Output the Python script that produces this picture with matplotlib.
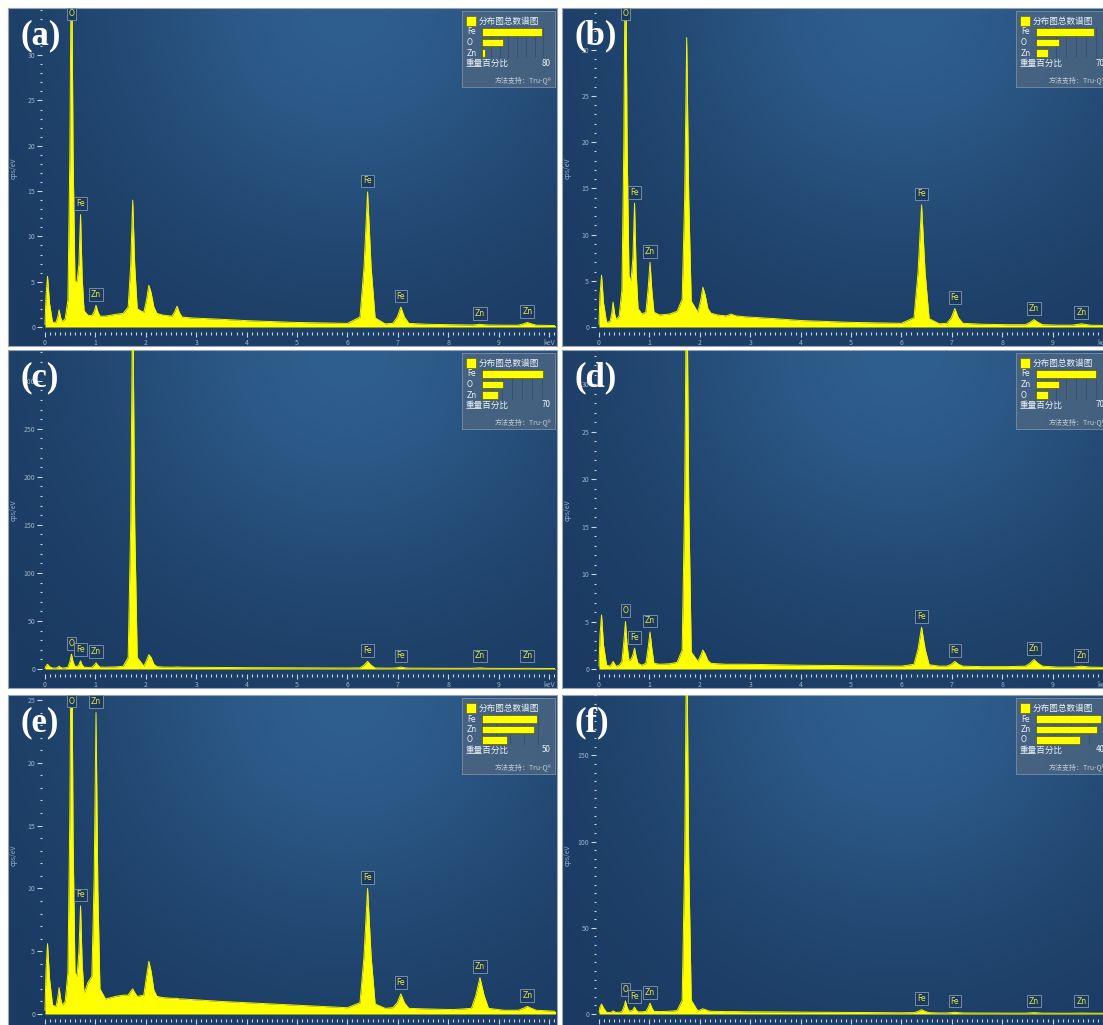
import numpy as np
import matplotlib
matplotlib.use('Agg')
import matplotlib.pyplot as plt
from matplotlib.ticker import MultipleLocator
from matplotlib.patches import Rectangle

plt.rcParams['font.family'] = ['Noto Sans CJK SC', 'DejaVu Sans']

W, H = 1103, 1025

# energy grid (keV) shared by all six spectra
energy = [0.00, 0.02, 0.05, 0.09, 0.15,
          0.22, 0.253, 0.28, 0.307, 0.34,
          0.40,
          0.455, 0.493, 0.525, 0.557, 0.595,
          0.635, 0.673, 0.705, 0.737, 0.775,
          0.85,
          0.93, 0.976, 1.012, 1.048, 1.09,
          1.2, 1.4, 1.55,
          1.65, 1.70, 1.74, 1.78, 1.83,
          1.96, 2.015, 2.06, 2.105, 2.16, 2.22,
          2.35, 2.52, 2.575, 2.62, 2.665, 2.72,
          2.9, 3.5, 4.0, 5.0, 6.0,
          6.25, 6.33, 6.40, 6.47, 6.55,
          6.75,
          6.90, 6.99, 7.06, 7.13, 7.22,
          7.6, 8.1,
          8.46, 8.55, 8.63, 8.71, 8.80,
          9.1,
          9.39, 9.49, 9.57, 9.65, 9.75,
          10.2]

# cps/eV
counts_a = [0.3, 3.4, 5.6, 2.6, 0.5,
            0.55, 1.1, 1.9, 1.1, 0.6,
            0.9,
            3.0, 19, 45, 19, 5.0,
            5.0, 7.0, 12.4, 5.5, 1.8,
            1.3,
            1.25, 1.7, 2.4, 1.7, 1.2,
            1.2, 1.4, 1.5,
            2.2, 6.8, 14.0, 6.8, 2.0,
            1.6, 3.0, 4.6, 3.8, 2.2, 1.5,
            1.3, 1.2, 1.7, 2.3, 1.6, 1.1,
            1.0, 0.85, 0.7, 0.5, 0.4,
            1.1, 6.6, 14.9, 6.6, 1.0,
            0.35,
            0.4, 1.1, 2.2, 1.1, 0.4,
            0.3, 0.25,
            0.22, 0.25, 0.3, 0.25, 0.22,
            0.2,
            0.2, 0.35, 0.5, 0.35, 0.2,
            0.15]

counts_b = [0.3, 3.5, 5.6, 2.6, 0.5,
            0.6, 1.5, 2.7, 1.5, 0.8,
            1.2,
            4.0, 20, 45, 20, 5.5,
            5.0, 7.5, 13.4, 6.0, 2.0,
            1.4,
            1.6, 4.2, 7.0, 4.0, 1.6,
            1.3, 1.4, 1.7,
            3.0, 14, 31.3, 14, 2.8,
            1.6, 2.8, 4.3, 3.5, 2.0, 1.5,
            1.3, 1.2, 1.3, 1.4, 1.3, 1.2,
            1.1, 0.9, 0.7, 0.5, 0.4,
            1.0, 5.9, 13.2, 5.9, 0.9,
            0.35,
            0.4, 1.0, 2.0, 1.0, 0.4,
            0.3, 0.25,
            0.25, 0.5, 0.8, 0.5, 0.25,
            0.2,
            0.2, 0.28, 0.35, 0.28, 0.2,
            0.15]

counts_c = [0.5, 3.2, 5.0, 2.5, 1.0,
            1.0, 1.8, 3.0, 1.8, 1.0,
            1.2,
            1.8, 7.5, 15.5, 7.5, 2.8,
            2.5, 4.5, 8.5, 4.2, 2.0,
            1.6,
            1.8, 4.0, 6.5, 4.0, 2.0,
            1.9, 2.2, 2.8,
            12, 150, 400, 150, 12,
            3.0, 9, 15, 12, 5, 2.5,
            2.0, 1.9, 2.0, 2.1, 2.0, 1.9,
            1.8, 1.6, 1.4, 1.2, 1.0,
            1.2, 4.0, 8.0, 4.0, 1.1,
            0.9,
            0.9, 1.3, 2.0, 1.3, 0.9,
            0.8, 0.7,
            0.7, 0.9, 1.2, 0.9, 0.7,
            0.6,
            0.6, 0.65, 0.7, 0.65, 0.6,
            0.5]

counts_d = [0.3, 3.6, 5.7, 2.5, 0.4,
            0.3, 0.55, 0.8, 0.55, 0.3,
            0.4,
            0.8, 2.9, 5.0, 2.5, 0.9,
            1.0, 1.5, 2.2, 1.3, 0.6,
            0.4,
            0.6, 2.3, 3.9, 2.2, 0.6,
            0.5, 0.55, 0.7,
            2.0, 18, 45, 18, 1.8,
            0.8, 1.4, 2.0, 1.6, 0.9, 0.6,
            0.55, 0.5, 0.5, 0.5, 0.5, 0.5,
            0.5, 0.45, 0.4, 0.35, 0.3,
            0.5, 2.1, 4.4, 2.1, 0.45,
            0.3,
            0.3, 0.5, 0.8, 0.5, 0.3,
            0.25, 0.25,
            0.3, 0.6, 1.0, 0.6, 0.3,
            0.2,
            0.2, 0.25, 0.3, 0.25, 0.2,
            0.15]

counts_e = [0.3, 3.5, 5.6, 2.8, 0.7,
            0.6, 1.3, 2.1, 1.3, 0.7,
            1.0,
            3.3, 16, 35, 14, 3.3,
            3.0, 5.0, 8.6, 4.0, 1.6,
            2.5,
            3.0, 11, 24.0, 10, 2.0,
            1.2, 1.4, 1.5,
            1.5, 1.8, 2.0, 1.7, 1.4,
            1.5, 3.0, 4.2, 3.4, 1.9, 1.4,
            1.3, 1.25, 1.25, 1.25, 1.2, 1.2,
            1.15, 1.0, 0.9, 0.7, 0.5,
            0.9, 4.6, 10.0, 4.6, 0.8,
            0.45,
            0.5, 0.9, 1.6, 0.9, 0.45,
            0.4, 0.35,
            0.45, 1.5, 2.9, 1.5, 0.45,
            0.3,
            0.3, 0.45, 0.6, 0.45, 0.3,
            0.2]

counts_f = [1.0, 4.0, 5.8, 3.5, 1.0,
            0.8, 1.3, 1.8, 1.3, 0.9,
            1.0,
            1.4, 4.0, 7.6, 4.0, 1.8,
            1.8, 2.5, 4.0, 2.2, 1.3,
            1.3,
            1.5, 3.8, 6.3, 3.6, 1.5,
            1.4, 1.6, 2.0,
            8, 90, 230, 90, 8,
            1.8, 2.5, 3.0, 2.6, 1.9, 1.6,
            1.5, 1.4, 1.4, 1.4, 1.4, 1.4,
            1.3, 1.2, 1.1, 0.9, 0.7,
            0.8, 1.5, 2.5, 1.5, 0.8,
            0.6,
            0.6, 0.8, 1.0, 0.8, 0.6,
            0.55, 0.5,
            0.5, 0.65, 0.8, 0.65, 0.5,
            0.45,
            0.45, 0.5, 0.55, 0.5, 0.45,
            0.4]

spectra = [counts_a, counts_b, counts_c, counts_d, counts_e, counts_f]
panel_names = ['(a)', '(b)', '(c)', '(d)', '(e)', '(f)']

y_top = [35.2, 34.5, 332, 33.6, 25.4, 185]
y_major = [5, 5, 50, 5, 5, 50]
y_minor = [1, 1, 10, 1, 1, 5]
y_label_max = [30, 30, 300, 30, 25, 150]

x_ticklabels = ['0', '1', '2', '3', '4', '5', '6', '7', '8', '9', 'keV']

# peak markers
peak_symbols = ['O', 'Fe', 'Zn', 'Fe', 'Fe', 'Zn', 'Zn']
peak_kev = [0.525, 0.705, 1.012, 6.40, 7.06, 8.63, 9.57]

# weight-% inset in each panel
legend_elements = [['Fe', 'O', 'Zn'], ['Fe', 'O', 'Zn'], ['Fe', 'O', 'Zn'],
                   ['Fe', 'Zn', 'O'], ['Fe', 'Zn', 'O'], ['Fe', 'Zn', 'O']]
legend_wt = [[69, 24, 3.4], [58, 23, 12], [61, 21, 16],
             [60, 23, 12], [39, 37, 18], [37, 35, 25]]
legend_scale = [80, 70, 70, 70, 50, 40]

# layout (pixels)
panel_origin = [(8, 8), (562, 8), (8, 350), (562, 350), (8, 695), (562, 695)]
PW, PH = 549, 338
ZERO_X = 37      # panel left -> 0 keV
KEV_PX = 50.4
BASE_Y = 319     # panel top -> 0 cps/eV


def rect(x, y, w, h):
    return [x / W, 1 - (y + h) / H, w / W, h / H]


fig = plt.figure(figsize=(W / 100, H / 100), dpi=100)
fig.patch.set_facecolor('white')

# panel background glow
gx, gy = np.meshgrid(np.linspace(0, 1, 300), np.linspace(0, 1, 300))
glow = np.exp(-((gx - 0.62) ** 2 / 0.22 + gy ** 2 / 0.55))
dark = np.array([0x1a, 0x39, 0x60]) / 255
light = np.array([0x2f, 0x5f, 0x8e]) / 255
bg_img = dark + (light - dark) * glow[..., None]

tick_c = '#c9d5e2'
label_c = '#9fb3c8'
text_c = '#eef2f6'

for i, (px, py) in enumerate(panel_origin):
    counts = spectra[i]
    ytop = y_top[i]
    yscale = BASE_Y / ytop

    # background panel
    bg = fig.add_axes(rect(px, py, PW, PH))
    bg.imshow(bg_img, extent=[0, 1, 0, 1], aspect='auto', origin='upper')
    bg.set_xlim(0, 1)
    bg.set_ylim(0, 1)
    bg.set_xticks([])
    bg.set_yticks([])
    for s in bg.spines.values():
        s.set_color('#9aa5b1')
        s.set_linewidth(0.8)
    bg.text(6 / PW, 1 - 160 / PH, 'cps/eV', rotation=90, fontsize=5,
            color=label_c, ha='center', va='center', transform=bg.transAxes)

    # spectrum
    left, right = 34, 547
    ax = fig.add_axes(rect(px + left, py, right - left, BASE_Y + 5))
    ax.patch.set_alpha(0)
    ax.set_xlim((left - ZERO_X) / KEV_PX, (right - ZERO_X) / KEV_PX)
    ax.set_ylim(-5 / yscale, ytop)
    ax.fill_between(energy, 0, counts, color='#ffff00', lw=0)
    ax.plot(energy, counts, color='#f4f400', lw=0.7)
    for s in ax.spines.values():
        s.set_visible(False)

    ax.set_xticks(range(11))
    ax.set_xticklabels(x_ticklabels)
    ax.xaxis.set_minor_locator(MultipleLocator(0.1))
    ax.set_yticks(np.arange(0, y_label_max[i] + 1, y_major[i]))
    ax.yaxis.set_minor_locator(MultipleLocator(y_minor[i]))
    ax.tick_params(which='major', length=3.5, width=0.8, colors=tick_c,
                   labelcolor=label_c, labelsize=5, pad=1.5)
    ax.tick_params(which='minor', length=1.8, width=0.8, colors=tick_c)

    for sym, e in zip(peak_symbols, peak_kev):
        h = np.interp(e, energy, counts)
        y_lab = min(h + 11 / yscale, ytop - 6 / yscale)
        y_lab = max(y_lab, 13 / yscale)
        ax.text(e, y_lab, sym, ha='center', va='center', fontsize=5.5,
                color='#e4e84a', family=['DejaVu Sans'],
                bbox=dict(boxstyle='square,pad=0.25', fc='#1b3a5e',
                          ec='#8398ad', lw=0.6))

    # weight-% box
    bx, by, bw, bh = px + 454, py + 3, 93, 76
    lg = fig.add_axes(rect(bx, by, bw, bh))
    lg.set_facecolor((0.30, 0.40, 0.51, 0.8))
    lg.set_xticks([])
    lg.set_yticks([])
    for s in lg.spines.values():
        s.set_color('#7a8ea3')
        s.set_linewidth(0.6)
    lg.add_patch(Rectangle((4 / bw, 1 - 15 / bh), 10 / bw, 10 / bh,
                           transform=lg.transAxes, fc='#ffff00',
                           ec='#6b6b00', lw=0.5))
    lg.text(17 / bw, 1 - 10 / bh, '分布图总数谱图', fontsize=6.2,
            color=text_c, va='center', transform=lg.transAxes)
    lg.text(4 / bw, 1 - 52 / bh, '重量百分比', fontsize=6.2,
            color=text_c, va='center', transform=lg.transAxes)
    lg.text(89 / bw, 1 - 52 / bh, str(legend_scale[i]), fontsize=5.8,
            color=text_c, va='center', ha='right', transform=lg.transAxes)
    lg.text(90 / bw, 1 - 69 / bh, '方法支持：Tru-Q®', fontsize=5,
            color='#c3ccd6', va='center', ha='right', transform=lg.transAxes)
    for j, el in enumerate(legend_elements[i]):
        lg.text(5 / bw, 1 - (21 + 10.5 * j) / bh, el, fontsize=5.5,
                color=text_c, va='center', transform=lg.transAxes,
                family=['DejaVu Sans'])

    bar_ax = fig.add_axes(rect(bx + 20, by + 16, 70, 31))
    bar_ax.patch.set_alpha(0)
    bar_ax.barh(range(3), legend_wt[i], height=0.75, color='#ffff00',
                edgecolor='#5c5c00', lw=0.5, zorder=3)
    bar_ax.set_xlim(0, legend_scale[i])
    bar_ax.set_ylim(2.5, -0.5)
    bar_ax.set_xticks(np.arange(0, legend_scale[i] + 1, 10))
    bar_ax.set_yticks([])
    bar_ax.tick_params(length=0, labelbottom=False)
    bar_ax.grid(axis='x', color='#34506c', lw=0.6)
    for s in bar_ax.spines.values():
        s.set_visible(False)

    fig.text((px + 12) / W, 1 - (py + 28) / H, panel_names[i], fontsize=25,
             fontweight='bold', family=['Liberation Serif', 'DejaVu Serif'],
             color='white', ha='left', va='center')

fig.savefig('out.png', dpi=100)
